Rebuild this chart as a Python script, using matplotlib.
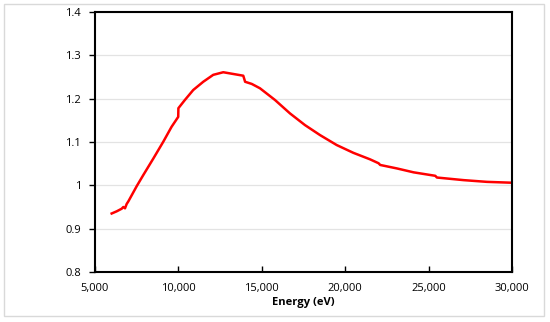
import matplotlib
matplotlib.use('Agg')
import matplotlib.pyplot as plt
from matplotlib.patches import Rectangle
from matplotlib.ticker import FuncFormatter, MultipleLocator

# values
energy = [6000, 6300, 6600, 6700, 6800, 6900, 7000, 7500, 7900, 8500,
          9100, 9590, 9990, 10000, 10390, 10890, 11490, 12090, 12690, 13290,
          13890, 14000, 14400, 14890, 15790, 16690, 17590, 18490, 19490, 20490,
          21490, 22000, 22100, 23100, 24100, 25400, 25500, 27100, 28500, 30000]
ratio = [0.935, 0.940, 0.946, 0.950, 0.947, 0.957, 0.963, 0.998, 1.024, 1.062,
         1.101, 1.135, 1.158, 1.178, 1.197, 1.220, 1.239, 1.255, 1.261, 1.257,
         1.253, 1.239, 1.234, 1.224, 1.197, 1.166, 1.139, 1.116, 1.093, 1.075,
         1.060, 1.051, 1.047, 1.039, 1.030, 1.022, 1.018, 1.012, 1.008, 1.006]

plt.rcParams['font.family'] = ['Open Sans', 'DejaVu Sans']

fig = plt.figure(figsize=(5.5, 3.22), dpi=100)
fig.patches.append(Rectangle((4 / 550, 6 / 322), 540 / 550, 312 / 322,
                             transform=fig.transFigure, fill=False,
                             edgecolor='#d9d9d9', linewidth=1.0))

ax = fig.add_axes([0.1727, 0.1553, 0.7582, 0.8074])
ax.plot(energy, ratio, color='#ff0000', linewidth=1.8)

ax.set_xlim(5000, 30000)
ax.set_ylim(0.8, 1.4)
ax.xaxis.set_major_locator(MultipleLocator(5000))
ax.yaxis.set_major_locator(MultipleLocator(0.1))
ax.xaxis.set_major_formatter(FuncFormatter(lambda v, p: f'{int(v):,}'))
ax.yaxis.set_major_formatter(FuncFormatter(lambda v, p: f'{v:.1f}'.rstrip('0').rstrip('.')))

ax.grid(axis='y', color='#e3e3e3', linewidth=0.9)
ax.set_axisbelow(True)
for s in ax.spines.values():
    s.set_color('black')
    s.set_linewidth(1.5)

ax.tick_params(axis='x', direction='in', length=4, width=1, labelsize=8, pad=8)
ax.tick_params(axis='y', direction='out', length=4, width=1, labelsize=8, pad=6)
ax.set_xlabel('Energy (eV)', fontsize=8, fontweight='bold', labelpad=2)

fig.savefig('out.png', dpi=100)
